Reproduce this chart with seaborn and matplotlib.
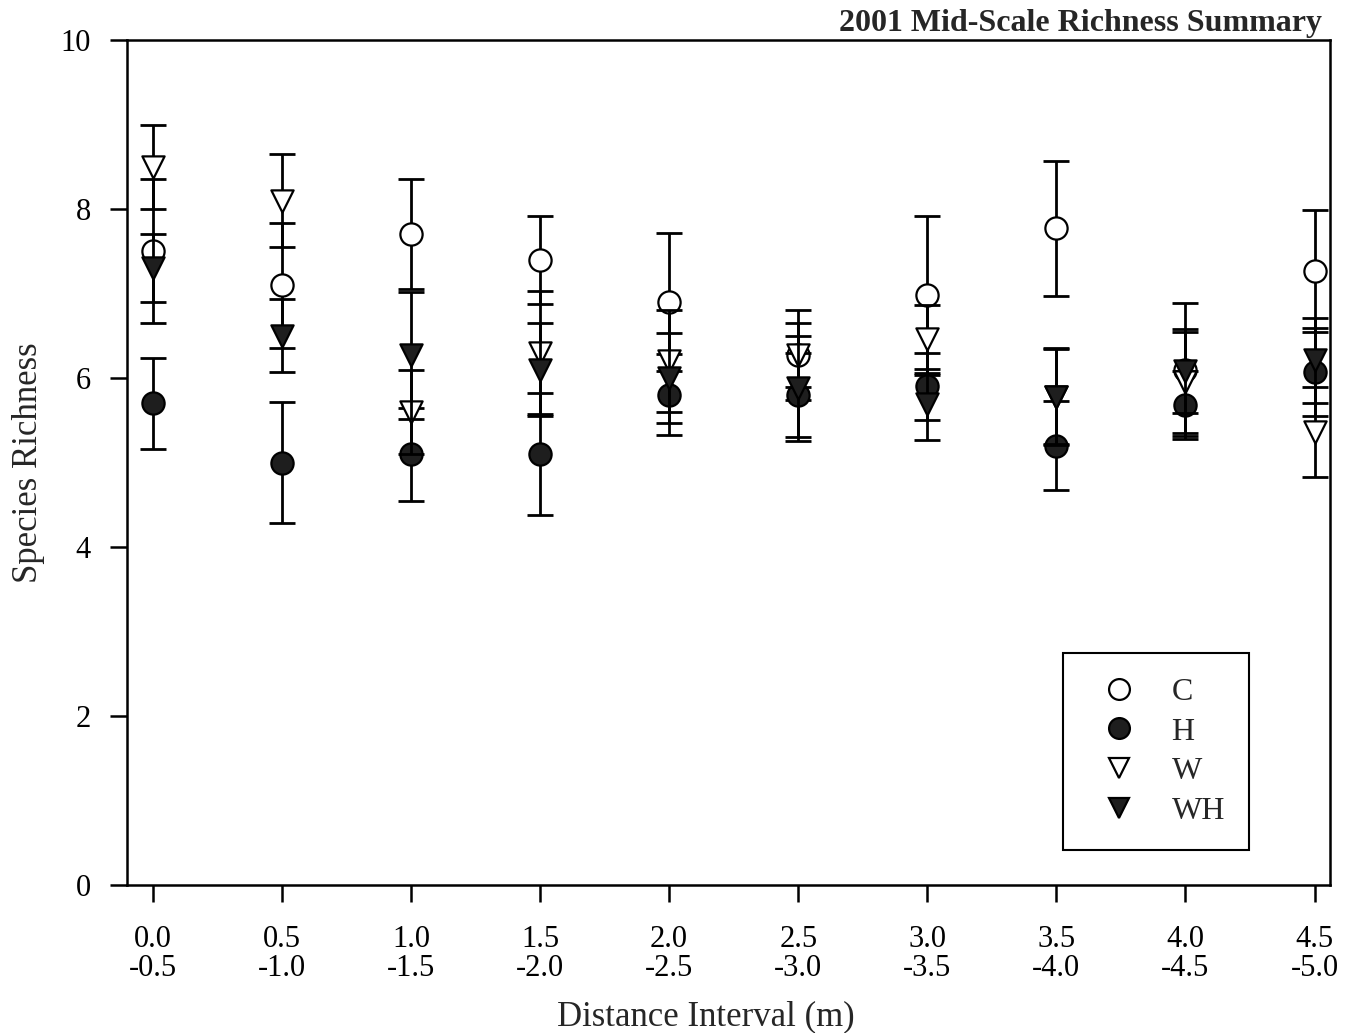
import matplotlib
matplotlib.use("Agg")
import matplotlib.pyplot as plt
from matplotlib.lines import Line2D
import seaborn as sns
import pandas as pd
import numpy as np

# ---- data ----
interval_start = ["0.0", "0.5", "1.0", "1.5", "2.0", "2.5", "3.0", "3.5", "4.0", "4.5"]
interval_end = ["-0.5", "-1.0", "-1.5", "-2.0", "-2.5", "-3.0", "-3.5", "-4.0", "-4.5", "-5.0"]

C_mean = [7.50, 7.10, 7.70, 7.40, 6.90, 6.27, 6.98, 7.77, 6.10, 7.27]
C_err = [0.85, 0.74, 0.65, 0.52, 0.82, 0.53, 0.94, 0.80, 0.79, 0.72]
H_mean = [5.70, 5.00, 5.10, 5.10, 5.80, 5.80, 5.90, 5.20, 5.68, 6.07]
H_err = [0.54, 0.72, 0.55, 0.72, 0.48, 0.50, 0.40, 0.53, 0.40, 0.52]
W_mean = [8.50, 8.10, 5.60, 6.30, 6.20, 6.27, 6.46, 5.78, 5.95, 5.36]
W_err = [0.50, 0.55, 0.50, 0.73, 0.60, 0.38, 0.40, 0.56, 0.60, 0.53]
WH_mean = [7.30, 6.50, 6.27, 6.10, 6.00, 5.88, 5.69, 5.78, 6.08, 6.21]
WH_err = [0.40, 0.43, 0.75, 0.55, 0.53, 0.62, 0.42, 0.57, 0.50, 0.50]

series_names = ["C", "H", "W", "WH"]
means = {"C": C_mean, "H": H_mean, "W": W_mean, "WH": WH_mean}
errs = {"C": C_err, "H": H_err, "W": W_err, "WH": WH_err}

DARK = "#1e1e1e"
styles = {
    "C": dict(marker="o", face="white"),
    "H": dict(marker="o", face=DARK),
    "W": dict(marker="v", face="white"),
    "WH": dict(marker="v", face=DARK),
}

rows = []
for s in series_names:
    for i, (m, e) in enumerate(zip(means[s], errs[s])):
        rows.append({"series": s, "pos": i, "mean": m, "err": e})
df = pd.DataFrame(rows)

sns.set_theme(style="ticks")
plt.rcParams["font.family"] = ["Liberation Serif", "DejaVu Serif"]

fig = plt.figure(figsize=(13.52, 10.33), dpi=100)
ax = fig.add_axes([127 / 1352, 1 - 885 / 1033, (1330 - 127) / 1352, (885 - 40) / 1033])

ms = 16
for k, s in enumerate(series_names):
    sub = df[df["series"] == s]
    ax.errorbar(sub["pos"], sub["mean"], yerr=sub["err"], fmt="none",
                ecolor="black", elinewidth=2.0, capsize=9.5, capthick=2.0,
                zorder=2 + 2 * k)
    sns.scatterplot(data=sub, x="pos", y="mean", ax=ax, marker=styles[s]["marker"],
                    s=ms ** 2, color=styles[s]["face"], edgecolor="black",
                    linewidth=1.6, zorder=3 + 2 * k, legend=False)

ax.set_xlim(-0.2, 9.12)
ax.set_ylim(0, 10)
ax.set_yticks([0, 2, 4, 6, 8, 10])
ax.set_xticks(range(len(interval_start)))
ax.set_xticklabels([f"{a}\n{b}" for a, b in zip(interval_start, interval_end)],
                   linespacing=0.98)
ax.tick_params(axis="both", direction="out", length=12, width=1.8, colors="black",
               labelsize=22)
ax.tick_params(axis="x", pad=17)
ax.tick_params(axis="y", pad=14)
for sp in ax.spines.values():
    sp.set_visible(True)
    sp.set_linewidth(1.8)
    sp.set_color("black")
ax.grid(False)

ax.set_xlabel("")
ax.set_ylabel("Species Richness", fontsize=25)
ax.yaxis.set_label_coords((45 - 127) / 1203, 0.5)
fig.text(706 / 1352, 1 - 1025 / 1033, "Distance Interval (m)", ha="center",
         va="baseline", fontsize=25)

handles = [Line2D([], [], linestyle="none", marker=styles[s]["marker"], markersize=15,
                  markerfacecolor=styles[s]["face"], markeredgecolor="black",
                  markeredgewidth=1.6) for s in series_names]
leg = ax.legend(handles, series_names, loc="lower left",
                bbox_to_anchor=(0.778, 0.041), fontsize=23, frameon=True,
                fancybox=False, edgecolor="black", framealpha=1,
                borderpad=0.75, handlelength=2.0, handletextpad=0.65,
                labelspacing=0.33, borderaxespad=0)
leg.get_frame().set_linewidth(1.5)

fig.text(1322 / 1352, 1 - 31 / 1033, "2001 Mid-Scale Richness Summary",
         ha="right", va="baseline", fontsize=23, fontweight="bold")

fig.savefig("out.png", dpi=100)
